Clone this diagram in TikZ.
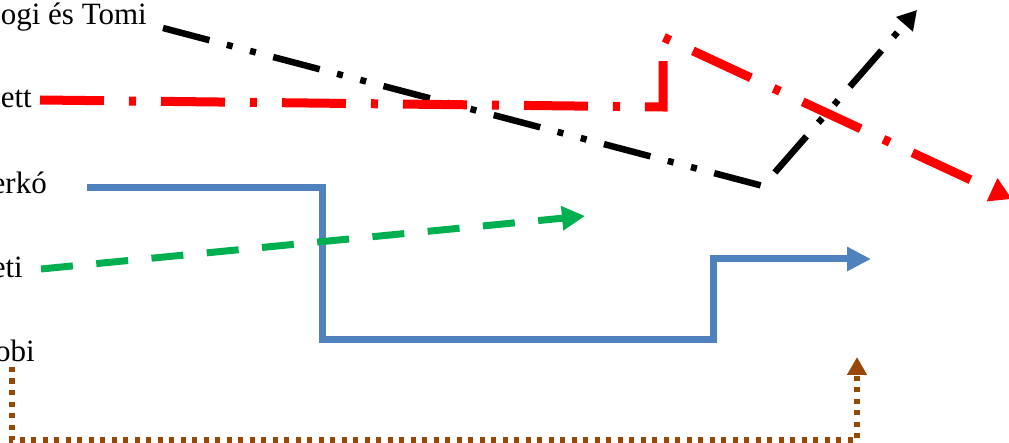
\documentclass[tikz,border=0pt]{standalone}
\usepackage{fontspec}
\setmainfont{Liberation Serif}
\usetikzlibrary{arrows.meta}
\definecolor{lnred}{RGB}{255,0,0}
\definecolor{lngreen}{RGB}{0,176,80}
\definecolor{lnblue}{RGB}{79,129,189}
\definecolor{lnbrown}{RGB}{152,72,6}
\tikzset{
  lbl/.style={anchor=base east, inner sep=0pt, font=\fontsize{31}{37}\selectfont},
  blackln/.style={draw=black, line width=6.5pt, dash pattern=on 48pt off 18pt on 6pt off 18pt on 6pt off 18pt},
  redln/.style={draw=lnred, line width=9pt, dash pattern=on 64pt off 25pt on 7pt off 25pt, -{Triangle[length=22pt,width=24pt]}},
  blueln/.style={draw=lnblue, line width=7pt, -{Triangle[length=24pt,width=23pt]}},
  greenln/.style={draw=lngreen, line width=7pt, dash pattern=on 32pt off 23.5pt, -{Triangle[length=23pt,width=23pt]}},
  brownln/.style={draw=lnbrown, line width=5.5pt, dash pattern=on 5pt off 6.5pt, -{Triangle[length=18pt,width=19pt]}}
}
\begin{document}
\begin{tikzpicture}[x=1pt,y=-1pt]
\useasboundingbox (0,0) rectangle (1009,443);
% labels
\node[lbl] (lt) at (147,25) {ogi és Tomi};
\node[lbl] (le) at (32,108) {ett};
\node[lbl] (lk) at (47,194) {erkó};
\node[lbl] (li) at (23,278) {eti};
\node[lbl] (lo) at (35,362) {obi};
% black
\coordinate (b0) at (163,28);
\coordinate (b1) at (763,186);
\coordinate (b2) at (917,10);
\draw[blackln] (b0) -- (b1);
\draw[blackln, dash phase=96pt, -{Triangle[length=19pt,width=21pt]}] (b1) -- (b2);
% red
\coordinate (r0) at (40,100);
\coordinate (r1) at (663,107);
\coordinate (r2) at (663,37);
\coordinate (r3) at (1012,199);
\draw[redln] (r0) -- (r1) -- (r2) -- (r3);
% blue
\coordinate (u0) at (87,188);
\coordinate (u1) at (322,188);
\coordinate (u2) at (322,340);
\coordinate (u3) at (713,340);
\coordinate (u4) at (713,259);
\coordinate (u5) at (871,259);
\draw[blueln] (u0) -- (u1) -- (u2) -- (u3) -- (u4) -- (u5);
% green
\coordinate (g0) at (41,269);
\coordinate (g1) at (585,216);
\draw[greenln] (g0) -- (g1);
% brown
\coordinate (w0) at (12,367);
\coordinate (w1) at (12,440);
\coordinate (w2) at (857,440);
\coordinate (w3) at (857,357);
\draw[brownln] (w0) -- (w1) -- (w2) -- (w3);
\end{tikzpicture}
\end{document}
